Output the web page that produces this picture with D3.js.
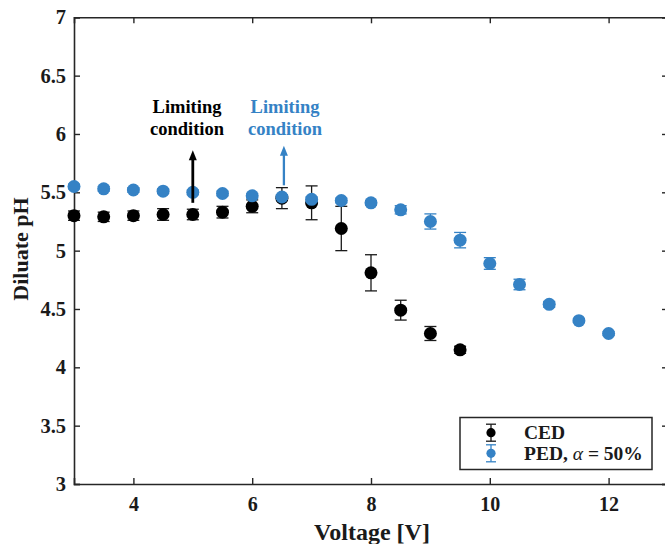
<!DOCTYPE html>
<html>
<head>
<meta charset="utf-8">
<script src="https://cdn.jsdelivr.net/npm/d3@7"></script>
<style>
  html, body { margin: 0; padding: 0; background: #fff; }
  svg { display: block; font-family: "Liberation Serif", "Times New Roman", serif; }
</style>
</head>
<body>
<svg id="chart" width="665" height="544"></svg>
<script>
// Diluate pH versus applied voltage: conventional ED (CED) and pulsed ED (PED, alpha = 50%)
const cedVoltage = [3, 3.5, 4, 4.5, 5, 5.5, 6, 6.5, 7, 7.5, 8, 8.5, 9, 9.5];
const cedPH      = [5.30, 5.29, 5.30, 5.31, 5.31, 5.33, 5.38, 5.45, 5.41, 5.19, 4.81, 4.49, 4.29, 4.15];
const cedErr     = [0.04, 0.04, 0.04, 0.05, 0.045, 0.05, 0.055, 0.09, 0.145, 0.19, 0.155, 0.085, 0.06, 0.03];

const pedVoltage = [3, 3.5, 4, 4.5, 5, 5.5, 6, 6.5, 7, 7.5, 8, 8.5, 9, 9.5, 10, 10.5, 11, 11.5, 12];
const pedPH      = [5.55, 5.53, 5.52, 5.51, 5.50, 5.49, 5.47, 5.46, 5.44, 5.43, 5.41, 5.35, 5.25, 5.09, 4.89, 4.71, 4.54, 4.40, 4.29];
const pedErr     = [0.02, 0.02, 0.02, 0.02, 0.02, 0.02, 0.02, 0.02, 0.02, 0.02, 0.02, 0.035, 0.065, 0.066, 0.05, 0.045, 0.025, 0.015, 0.015];

const xTicks = [4, 6, 8, 10, 12];
const yTicks = [3, 3.5, 4, 4.5, 5, 5.5, 6, 6.5, 7];

const blue = "#3582c5";
const axisColor = "#262626";

// Annotated limiting-condition voltages (arrow spans in pH units)
const limits = [
  { v: 5,   from: 5.41, to: 5.86, color: "#000000", width: 2.8, textX: 187, lines: ["Limiting", "condition"] },
  { v: 6.5, from: 5.56, to: 5.90, color: blue,      width: 2.3, textX: 285, lines: ["Limiting", "condition"] }
];

const legendItems = [
  { key: "CED", color: "#000000", bar: "#1a1a1a" },
  { key: "PED", color: blue, bar: blue }
];

const svg = d3.select("#chart");
const margin = { left: 74, right: 668, top: 17.3, bottom: 484 };

const x = d3.scaleLinear().domain([3, 13]).range([margin.left, margin.right]);
const y = d3.scaleLinear().domain([3, 7]).range([margin.bottom, margin.top]);

// Axes with inward ticks
const fmt = d => d3.format("")(d);
svg.append("g")
  .attr("transform", `translate(0,${y(3)})`)
  .call(d3.axisBottom(x).tickValues(xTicks).tickSize(-6).tickPadding(13).tickFormat(fmt))
  .call(g => g.select(".domain").attr("stroke", axisColor).attr("stroke-width", 1.6))
  .call(g => g.selectAll(".tick line").attr("stroke", axisColor).attr("stroke-width", 1.4))
  .call(g => g.selectAll(".tick text").attr("fill", "#1a1a1a").attr("font-size", 20)
    .attr("font-weight", "bold").attr("font-family", "Liberation Serif").attr("dy", "0.71em"));

svg.append("g")
  .attr("transform", `translate(${x(3)},0)`)
  .call(d3.axisLeft(y).tickValues(yTicks).tickSize(-6).tickPadding(8).tickFormat(fmt))
  .call(g => g.select(".domain").attr("stroke", axisColor).attr("stroke-width", 1.6))
  .call(g => g.selectAll(".tick line").attr("stroke", axisColor).attr("stroke-width", 1.4))
  .call(g => g.selectAll(".tick text").attr("fill", "#1a1a1a").attr("font-size", 20.5)
    .attr("font-weight", "bold").attr("font-family", "Liberation Serif"));

// Top and right frame
svg.append("g")
  .attr("transform", `translate(0,${y(7)})`)
  .call(d3.axisTop(x).tickValues(xTicks).tickSize(-6).tickFormat(""))
  .call(g => g.select(".domain").attr("stroke", axisColor).attr("stroke-width", 1.6))
  .call(g => g.selectAll(".tick line").attr("stroke", axisColor).attr("stroke-width", 1.4));
svg.append("g")
  .attr("transform", `translate(${x(13)},0)`)
  .call(d3.axisRight(y).tickValues(yTicks).tickSize(-6).tickFormat(""))
  .call(g => g.select(".domain").attr("stroke", axisColor).attr("stroke-width", 1.6))
  .call(g => g.selectAll(".tick line").attr("stroke", axisColor).attr("stroke-width", 1.4));

// Axis titles
svg.append("text")
  .attr("x", 372).attr("y", 540)
  .attr("text-anchor", "middle")
  .attr("font-size", 24).attr("font-weight", "bold").attr("fill", "#1a1a1a")
  .text("Voltage [V]");
svg.append("text")
  .attr("transform", `translate(28,249) rotate(-90)`)
  .attr("text-anchor", "middle")
  .attr("font-size", 22).attr("font-weight", "bold").attr("fill", "#1a1a1a")
  .text("Diluate pH");

// Error bars + markers
function series(vs, ph, err, fill, barColor, r, cap) {
  const g = svg.append("g");
  const data = vs.map((v, i) => ({ v, p: ph[i], e: err[i] }));
  const bars = g.selectAll("g.bar").data(data).join("g").attr("class", "bar")
    .attr("stroke", barColor).attr("stroke-width", 1.3);
  bars.append("line")
    .attr("x1", d => x(d.v)).attr("x2", d => x(d.v))
    .attr("y1", d => y(d.p - d.e)).attr("y2", d => y(d.p + d.e));
  bars.append("line")
    .attr("x1", d => x(d.v) - cap).attr("x2", d => x(d.v) + cap)
    .attr("y1", d => y(d.p + d.e)).attr("y2", d => y(d.p + d.e));
  bars.append("line")
    .attr("x1", d => x(d.v) - cap).attr("x2", d => x(d.v) + cap)
    .attr("y1", d => y(d.p - d.e)).attr("y2", d => y(d.p - d.e));
  g.selectAll("circle").data(data).join("circle")
    .attr("cx", d => x(d.v)).attr("cy", d => y(d.p))
    .attr("r", r).attr("fill", fill);
}

series(cedVoltage, cedPH, cedErr, "#000000", "#1a1a1a", 6.5, 6);
series(pedVoltage, pedPH, pedErr, blue, blue, 6.5, 6);

// Limiting-condition arrows and labels
limits.forEach((l, i) => {
  const ax = x(l.v) + (i === 0 ? 0 : 2);
  const tip = y(l.to);
  svg.append("line")
    .attr("x1", ax).attr("x2", ax)
    .attr("y1", y(l.from)).attr("y2", tip + 8)
    .attr("stroke", l.color).attr("stroke-width", l.width);
  svg.append("path")
    .attr("d", `M${ax},${tip} L${ax - 4},${tip + 10} L${ax + 4},${tip + 10} Z`)
    .attr("fill", l.color);
  const t = svg.append("text")
    .attr("text-anchor", "middle")
    .attr("font-size", 18.5).attr("font-weight", "bold").attr("fill", l.color);
  t.append("tspan").attr("x", l.textX).attr("y", 113).text(l.lines[0]);
  t.append("tspan").attr("x", l.textX).attr("y", 135).text(l.lines[1]);
});

// Legend
const lg = svg.append("g");
lg.append("rect")
  .attr("x", 460).attr("y", 417.5).attr("width", 192).attr("height", 52)
  .attr("fill", "#fff").attr("stroke", axisColor).attr("stroke-width", 1.5);
const rowY = [432.7, 453.3];
legendItems.forEach((it, i) => {
  const cy = rowY[i];
  const gg = lg.append("g").attr("stroke", it.bar).attr("stroke-width", 1.3);
  gg.append("line").attr("x1", 491).attr("x2", 491).attr("y1", cy - 8.5).attr("y2", cy + 8.5);
  gg.append("line").attr("x1", 486).attr("x2", 496).attr("y1", cy - 8.5).attr("y2", cy - 8.5);
  gg.append("line").attr("x1", 486).attr("x2", 496).attr("y1", cy + 8.5).attr("y2", cy + 8.5);
  lg.append("circle").attr("cx", 491).attr("cy", cy).attr("r", 4.6).attr("fill", it.color);
});
lg.append("text")
  .attr("x", 524).attr("y", rowY[0] + 6.5)
  .attr("font-size", 19.5).attr("font-weight", "bold").attr("fill", "#1a1a1a")
  .text("CED");
const pedLabel = lg.append("text")
  .attr("x", 524).attr("y", rowY[1] + 6.5)
  .attr("font-size", 19.5).attr("font-weight", "bold").attr("fill", "#1a1a1a");
pedLabel.append("tspan").text("PED, ");
pedLabel.append("tspan").attr("font-style", "italic").attr("font-weight", "normal").text("α");
pedLabel.append("tspan").text(" = 50%");
</script>
</body>
</html>
